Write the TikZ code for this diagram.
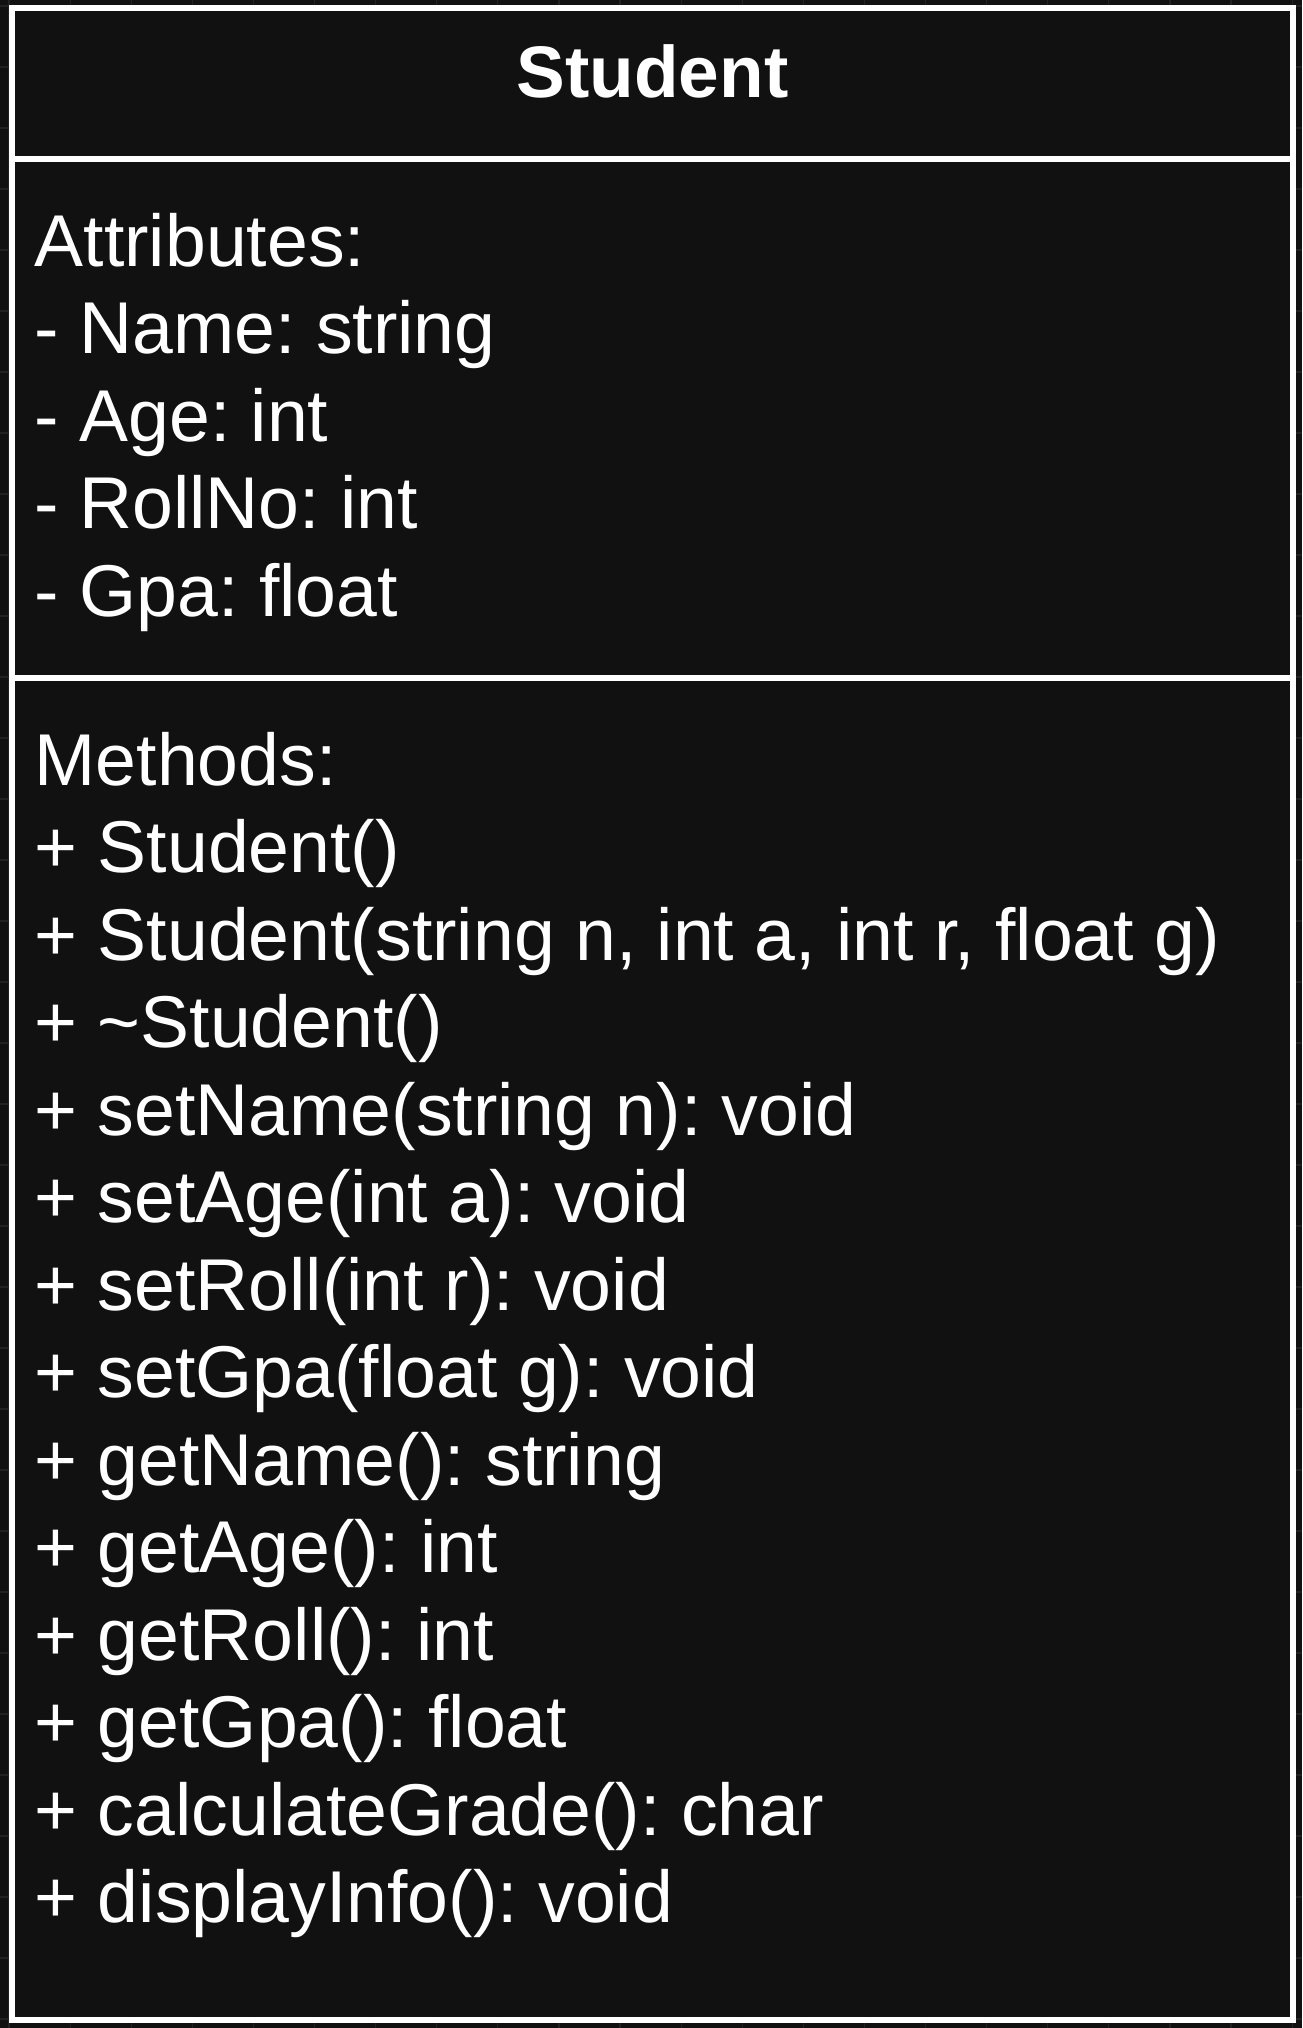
\documentclass[tikz,border=0pt]{standalone}
\usepackage{fontspec}
\setmainfont{Liberation Sans}
\frenchspacing
\definecolor{bgdark}{HTML}{111111}
\definecolor{gridline}{HTML}{222222}
\begin{document}
\begin{tikzpicture}[x=1pt,y=-1pt,
  member/.style={anchor=base west,inner sep=0pt,text=white,font=\fontsize{73.4}{87.6}\selectfont\frenchspacing},
  title/.style={anchor=base,inner sep=0pt,text=white,font=\fontsize{73}{87.6}\selectfont\bfseries},
  frame/.style={draw=white,line width=6pt,fill=bgdark},
  divider/.style={draw=white,line width=6pt}]
\fill[bgdark] (0,0) rectangle (1302,2028);
\useasboundingbox (0,0) rectangle (1302,2028);
% faint grid
\foreach \i in {0,...,21} {\draw[gridline,line width=1.2pt] (9+61.1*\i,0) -- (9+61.1*\i,2028);}
\foreach \j in {0,...,33} {\draw[gridline,line width=1.2pt] (0,6+61*\j) -- (1302,6+61*\j);}
% class box
\path[frame] (12,8) rectangle (1293,2020);
\coordinate (d1l) at (12,159);
\coordinate (d1r) at (1293,159);
\coordinate (d2l) at (12,678);
\coordinate (d2r) at (1293,678);
\draw[divider] (d1l) -- (d1r);
\draw[divider] (d2l) -- (d2r);
% header
\node[title] (hdr) at (652.5,98) {Student};
% attributes
\node[member] (a0) at (34.5,266) {Attributes:};
\node[member] (a1) at (34.5,353.6) {- Name: string};
\node[member] (a2) at (34.5,441.2) {- Age: int};
\node[member] (a3) at (34.5,528.8) {- RollNo: int};
\node[member] (a4) at (34.5,616.4) {- Gpa: float};
% methods
\node[member] (m0) at (34.5,785) {Methods:};
\node[member] (m1) at (34.5,872.5) {+ Student()};
\node[member] (m2) at (34.5,960) {+ Student(string n, int a, int r, float g)};
\node[member] (m3) at (34.5,1047.5) {+ \char"007EStudent()};
\node[member] (m4) at (34.5,1135) {+ setName(string n): void};
\node[member] (m5) at (34.5,1222.5) {+ setAge(int a): void};
\node[member] (m6) at (34.5,1310) {+ setRoll(int r): void};
\node[member] (m7) at (34.5,1397.5) {+ setGpa(float g): void};
\node[member] (m8) at (34.5,1485) {+ getName(): string};
\node[member] (m9) at (34.5,1572.5) {+ getAge(): int};
\node[member] (m10) at (34.5,1660) {+ getRoll(): int};
\node[member] (m11) at (34.5,1747.5) {+ getGpa(): float};
\node[member] (m12) at (34.5,1835) {+ calculateGrade(): char};
\node[member] (m13) at (34.5,1922.5) {+ displayInfo(): void};
\end{tikzpicture}
\end{document}
